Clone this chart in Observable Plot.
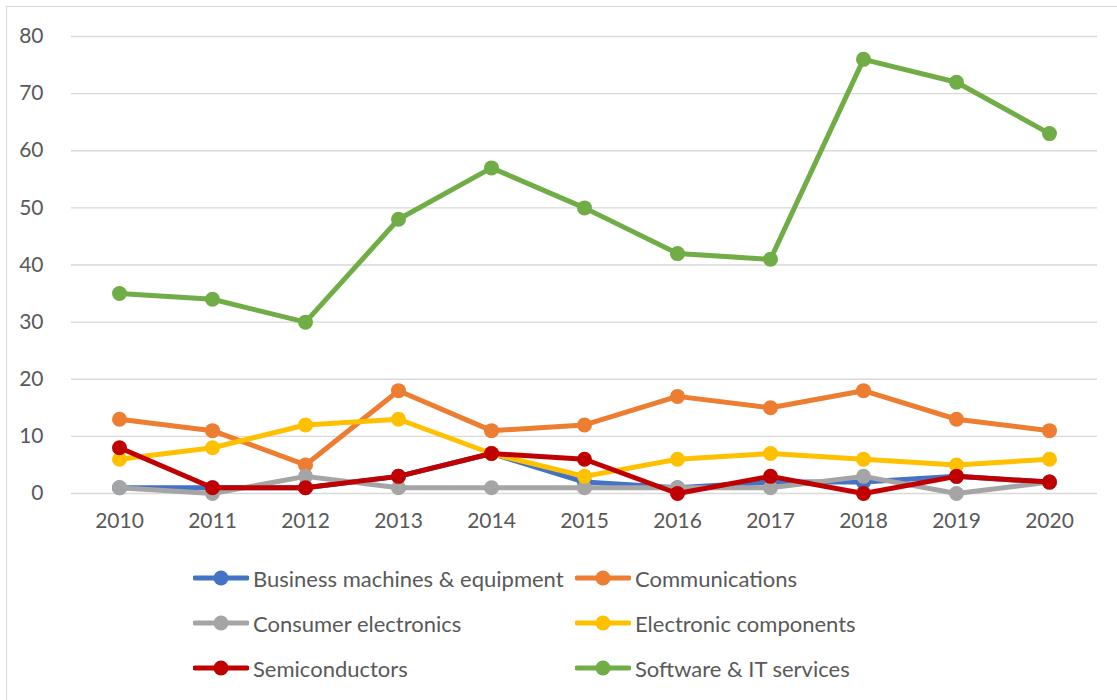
<!DOCTYPE html>
<html>
<head>
<meta charset="utf-8">
<script src="https://cdn.jsdelivr.net/npm/d3@7"></script>
<script src="https://cdn.jsdelivr.net/npm/@observablehq/plot@0.6"></script>
<style>
  html, body { margin: 0; padding: 0; background: #fff; }
  #wrap { position: relative; width: 1117px; height: 700px; overflow: hidden; font-family: Lato, "Open Sans", sans-serif; }
  #frame { position: absolute; left: 6px; top: 6px; width: 1200px; height: 800px; border: 1.5px solid #d9d9d9; box-sizing: border-box; }
  #chart { position: absolute; left: 0; top: 0; }
  .leg { position: absolute; display: flex; align-items: center; font-size: 22px; color: #595959; white-space: nowrap; }
  .leg svg { margin-right: 4px; }
</style>
</head>
<body>
<div id="wrap">
  <div id="frame"></div>
  <div id="chart"></div>
</div>
<script>
const years = [2010, 2011, 2012, 2013, 2014, 2015, 2016, 2017, 2018, 2019, 2020];
const seriesNames = ["Business machines & equipment", "Communications", "Consumer electronics", "Electronic components", "Semiconductors", "Software & IT services"];
const seriesColors = ["#4472C4", "#ED7D31", "#A5A5A5", "#FFC000", "#C00000", "#70AD47"];
const business = [1, 1, 1, 3, 7, 2, 1, 2, 2, 3, 2];
const communications = [13, 11, 5, 18, 11, 12, 17, 15, 18, 13, 11];
const consumer = [1, 0, 3, 1, 1, 1, 1, 1, 3, 0, 2];
const components = [6, 8, 12, 13, 7, 3, 6, 7, 6, 5, 6];
const semiconductors = [8, 1, 1, 3, 7, 6, 0, 3, 0, 3, 2];
const software = [35, 34, 30, 48, 57, 50, 42, 41, 76, 72, 63];
const yTicks = [0, 10, 20, 30, 40, 50, 60, 70, 80];

const values = [business, communications, consumer, components, semiconductors, software];
const data = [];
seriesNames.forEach((s, i) => years.forEach((y, j) => data.push({series: s, year: String(y), value: values[i][j]})));

const marks = [
  Plot.ruleY(yTicks, {stroke: "#d9d9d9", strokeWidth: 1.3}),
  Plot.axisY({ticks: yTicks, tickSize: 0, tickPadding: 28, fontSize: 21, fill: "#595959", label: null}),
  Plot.axisX({tickSize: 0, tickPadding: 20, fontSize: 21, fill: "#595959", label: null})
];
seriesNames.forEach(s => {
  const d = data.filter(r => r.series === s);
  marks.push(Plot.line(d, {x: "year", y: "value", stroke: "series", strokeWidth: 5}));
  marks.push(Plot.dot(d, {x: "year", y: "value", fill: "series", r: 7.5}));
});

const chart = Plot.plot({
  width: 1117,
  height: 560,
  marginLeft: 71,
  marginRight: 20,
  marginTop: 36,
  marginBottom: 67,
  style: {fontFamily: "Lato, 'Open Sans', sans-serif", background: "transparent", color: "#595959"},
  x: {type: "point", domain: years.map(String), padding: 0.5},
  y: {domain: [0, 80]},
  color: {domain: seriesNames, range: seriesColors},
  marks
});
document.getElementById("chart").appendChild(chart);

// Legend
const wrap = document.getElementById("wrap");
const legPos = [[193, 578], [575, 578], [193, 623], [575, 623], [193, 668], [575, 668]];
seriesNames.forEach((s, i) => {
  const el = document.createElement("div");
  el.className = "leg";
  el.style.left = legPos[i][0] + "px";
  el.style.top = (legPos[i][1] - 14) + "px";
  el.style.height = "28px";
  const c = seriesColors[i];
  el.innerHTML = `<svg width="56" height="16"><line x1="2" x2="54" y1="8" y2="8" stroke="${c}" stroke-width="5" stroke-linecap="round"/><circle cx="28" cy="8" r="7.5" fill="${c}"/></svg><span>${s}</span>`;
  wrap.appendChild(el);
});
</script>
</body>
</html>
